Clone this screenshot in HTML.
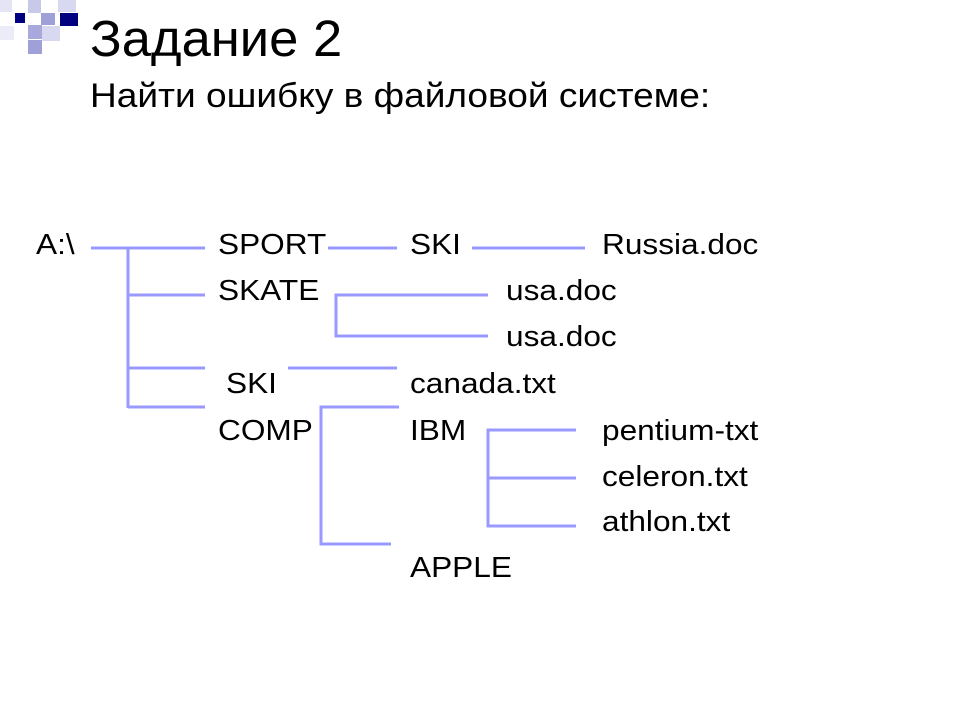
<!DOCTYPE html>
<html><head><meta charset="utf-8"><style>
body{margin:0;width:960px;height:720px;background:#fff;overflow:hidden;position:relative;font-family:"Liberation Sans",sans-serif;}
svg{position:absolute;left:0;top:0}
</style></head><body>
<svg width="960" height="720" viewBox="0 0 960 720">
<g>
<rect x="0" y="0" width="12" height="12" fill="#e4e4f4"/>
<rect x="28" y="0" width="13" height="13" fill="#c8c8e8"/>
<rect x="15" y="13" width="10" height="10" fill="#000080"/>
<rect x="41" y="13" width="14" height="12" fill="#a0a0d8"/>
<rect x="60" y="13" width="18" height="13" fill="#000080"/>
<rect x="28" y="25" width="14" height="14" fill="#a8a8dc"/>
<rect x="42" y="26" width="18" height="15" fill="#d8d8f0"/>
<rect x="0" y="26" width="14" height="14" fill="#ececf8"/>
<rect x="28" y="40" width="14" height="14" fill="#a0a0d8"/>
<rect x="58" y="0" width="18" height="12" fill="#d8d8f0"/>
</g>
<g stroke="#9999ff" stroke-width="3" fill="none">
<line x1="91" y1="248" x2="205" y2="248"/>
<line x1="128" y1="248" x2="128" y2="408"/>
<line x1="128" y1="295" x2="205" y2="295"/>
<line x1="128" y1="368" x2="205" y2="368"/>
<line x1="128" y1="407" x2="205" y2="407"/>
<line x1="328" y1="248" x2="397" y2="248"/>
<line x1="472" y1="248" x2="585" y2="248"/>
<polyline points="488,295 336,295 336,336 488,336"/>
<line x1="288" y1="368" x2="397" y2="368"/>
<polyline points="399,407 321,407 321,544 391,544"/>
<polyline points="576,430 488,430 488,526 576,526"/>
<line x1="488" y1="478" x2="576" y2="478"/>
</g>
<g fill="#000" font-family="Liberation Sans, sans-serif">
<text transform="translate(90,56) scale(1.03,1)" font-size="51">Задание 2</text>
<text transform="translate(90,107) scale(1.09,1)" font-size="34">Найти ошибку в файловой системе:</text>
<g font-size="29">
<text transform="translate(36,254) scale(1.09,1)">A:\</text>
<text transform="translate(218,254) scale(1.09,1)">SPORT</text>
<text transform="translate(410,254) scale(1.09,1)">SKI</text>
<text transform="translate(602,254) scale(1.09,1)">Russia.doc</text>
<text transform="translate(218,300) scale(1.09,1)">SKATE</text>
<text transform="translate(506,300) scale(1.09,1)">usa.doc</text>
<text transform="translate(506,346) scale(1.09,1)">usa.doc</text>
<text transform="translate(226,393) scale(1.09,1)">SKI</text>
<text transform="translate(410,393) scale(1.09,1)">canada.txt</text>
<text transform="translate(218,440) scale(1.09,1)">COMP</text>
<text transform="translate(410,440) scale(1.09,1)">IBM</text>
<text transform="translate(602,440) scale(1.09,1)">pentium-txt</text>
<text transform="translate(602,486) scale(1.09,1)">celeron.txt</text>
<text transform="translate(602,531) scale(1.09,1)">athlon.txt</text>
<text transform="translate(410,577) scale(1.09,1)">APPLE</text>
</g>
</g>
</svg>
</body></html>
